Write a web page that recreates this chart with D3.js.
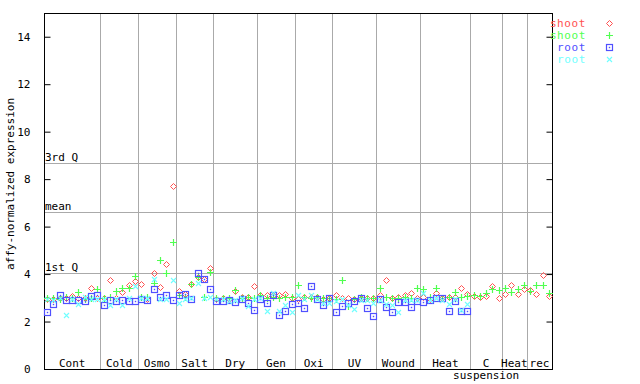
<!DOCTYPE html>
<html><head><meta charset="utf-8">
<script src="https://cdn.jsdelivr.net/npm/d3@7/dist/d3.min.js"></script>
<style>
html,body{margin:0;padding:0;background:#fff;}
svg{display:block;}
text{font-family:"DejaVu Sans Mono",monospace;font-size:11px;}
</style></head>
<body>
<svg id="chart" width="640" height="384"></svg>
<script>
// ---- data ----
const categories = ["Cont","Cold","Osmo","Salt","Dry","Gen","Oxi","UV","Wound","Heat","C|suspension","Heat","rec"];
const groupSizes = [9,6,6,6,7,6,6,7,7,8,5,4,4];
const yTicks = [0,2,4,6,8,10,12,14];
const refLabels = ["3rd Q","mean","1st Q"];
const refValues = [8.66,6.61,4.06];
const seriesNames = ["shoot","shoot","root","root"];

const shootA = [2.97,2.95,3.0,3.0,3.07,2.98,2.99,3.4,3.0,
  3.0,3.75,3.0,3.23,3.53,3.71,
  3.57,2.97,4.03,3.44,4.43,7.72,
  3.29,3.15,3.58,3.87,3.79,4.26,
  2.97,3.0,2.97,3.3,3.05,3.05,3.5,
  3.12,3.1,3.13,3.12,3.14,3.0,
  2.95,3.02,3.02,3.02,2.95,3.0,
  3.12,3.0,3.0,2.97,3.0,3.0,3.0,
  3.13,3.74,3.0,3.05,3.12,3.22,3.0,
  3.02,2.95,3.22,2.98,3.04,3.04,3.4,3.15,
  3.08,3.05,3.08,3.5,2.98,
  3.15,3.53,3.15,3.37,
  3.32,3.15,3.96,3.06];
const shootB = [3.01,3.0,2.97,3.02,2.99,3.24,2.97,3.0,3.36,
  2.99,3.05,3.28,3.4,3.42,3.92,
  3.02,3.05,3.64,4.6,4.04,5.36,
  3.12,3.05,3.57,3.86,3.05,4.09,
  3.0,3.0,3.0,3.32,3.0,3.05,3.0,
  3.1,3.0,3.05,3.0,3.05,3.02,
  3.53,3.02,3.0,3.02,3.0,3.0,
  2.96,3.73,2.64,2.97,3.02,3.0,2.98,
  3.4,3.05,3.0,3.0,3.02,3.0,3.43,
  3.36,3.05,3.42,3.0,3.04,3.25,3.05,3.08,
  3.1,3.09,3.22,3.35,3.31,
  3.4,3.23,3.37,3.53,
  3.27,3.53,3.56,3.2];
const rootA = [2.39,2.74,3.1,2.9,2.9,2.92,2.86,3.07,3.1,
  2.69,2.92,2.86,2.92,2.86,2.87,
  2.95,2.92,3.36,3.02,3.11,2.91,
  3.11,3.15,2.93,4.04,3.79,3.36,
  2.88,2.88,2.91,2.81,2.96,2.79,2.49,
  2.95,2.77,3.12,2.26,2.45,2.73,
  2.77,2.55,3.5,2.93,2.7,3.01,
  2.39,2.64,2.8,2.88,3.0,2.56,2.22,
  2.97,2.63,2.42,2.81,2.84,2.6,2.85,
  2.84,2.92,2.99,2.98,2.43,2.87,2.43,2.43,
  null,null,null,null,null,null,null,null,null,null,null,null,null];
const rootB = [2.95,2.9,3.0,2.28,2.95,2.72,3.05,2.97,2.95,
  2.95,2.69,2.97,2.69,3.0,3.5,
  3.0,3.0,3.79,2.97,2.94,3.75,
  2.8,2.93,3.0,3.63,3.0,3.02,
  2.97,2.95,2.85,2.9,3.0,2.67,2.95,
  3.0,2.45,3.2,2.45,2.69,2.39,
  3.13,2.95,3.1,2.95,2.78,2.8,
  2.85,2.95,2.7,2.53,2.9,2.9,2.8,
  2.9,2.72,2.7,2.39,2.9,2.9,2.9,
  3.2,2.9,3.0,2.92,2.75,2.95,2.48,2.75,
  null,null,null,null,null,null,null,null,null,null,null,null,null];

// ---- layout ----
const svg = d3.select("#chart");
const L = 44, R = 552, T = 13, B = 369;
const nSamples = d3.sum(groupSizes);
const x = d3.scaleBand().domain(d3.range(nSamples)).range([L, R]).padding(0);
const y = d3.scaleLinear().domain([0, 15]).range([B, T]);
const cx = i => x(i) + x.bandwidth() / 2;
const colors = ["#ff5050", "#50ff50", "#5050ff", "#70ffff"];
const grey = "#aaaaaa";

// group separators
const bounds = [];
let acc = 0;
groupSizes.forEach(s => { bounds.push({start: acc, end: acc + s}); acc += s; });
svg.append("g").selectAll("line").data(bounds.slice(1)).join("line")
  .attr("x1", d => Math.round(x(d.start)) + 0.5).attr("x2", d => Math.round(x(d.start)) + 0.5)
  .attr("y1", T).attr("y2", B).attr("stroke", grey).attr("stroke-width", 1);

// reference lines
const refs = refLabels.map((l, i) => ({label: l, value: refValues[i]}));
const rg = svg.append("g");
rg.selectAll("line").data(refs).join("line")
  .attr("x1", L).attr("x2", R)
  .attr("y1", d => Math.round(y(d.value)) + 0.5).attr("y2", d => Math.round(y(d.value)) + 0.5)
  .attr("stroke", grey).attr("stroke-width", 1);
rg.selectAll("text").data(refs).join("text")
  .attr("x", L + 1).attr("y", d => Math.round(y(d.value)) - 2)
  .attr("fill", "#000").text(d => d.label);

// frame
svg.append("rect").attr("x", L + 0.5).attr("y", T + 0.5).attr("width", R - L).attr("height", B - T)
  .attr("fill", "none").attr("stroke", "#000").attr("stroke-width", 1);

// y axes (ticks inward)
const yAxisL = d3.axisLeft(y).tickValues(yTicks).tickSize(-6).tickPadding(14).tickFormat(d3.format("d"));
const gl = svg.append("g").attr("transform", `translate(${L + 0.5},0)`).call(yAxisL);
gl.select(".domain").remove();
gl.selectAll("text").attr("font-size", 11).attr("font-family", "DejaVu Sans Mono").attr("fill", "#000");
gl.selectAll("line").attr("stroke", "#000");
const yAxisR = d3.axisRight(y).tickValues(yTicks).tickSize(-6).tickFormat("");
const gr = svg.append("g").attr("transform", `translate(${R + 0.5},0)`).call(yAxisR);
gr.select(".domain").remove();
gr.selectAll("line").attr("stroke", "#000");

// y label
svg.append("text").attr("transform", `translate(14,184) rotate(-90)`)
  .attr("text-anchor", "middle").attr("fill", "#000").text("affy-normalized expression");

// category labels
const cg = svg.append("g");
bounds.forEach((b, i) => {
  const mid = (x(b.start) + x(b.end - 1) + x.bandwidth()) / 2;
  const parts = categories[i].split("|");
  parts.forEach((p, j) => {
    cg.append("text").attr("x", mid).attr("y", 367 + j * 12)
      .attr("text-anchor", "middle").attr("fill", "#000").text(p);
  });
});

// markers
const symbols = [
  (g, px, py, c) => g.append("path").attr("d", `M${px},${py-3}L${px+3},${py}L${px},${py+3}L${px-3},${py}Z`)
      .attr("fill", "none").attr("stroke", c).attr("stroke-width", 1),
  (g, px, py, c) => g.append("path").attr("d", `M${px-3.5},${py}H${px+3.5}M${px},${py-3.5}V${py+3.5}`)
      .attr("stroke", c).attr("stroke-width", 1.2),
  (g, px, py, c) => { g.append("rect").attr("x", px - 3).attr("y", py - 3).attr("width", 6).attr("height", 6)
      .attr("fill", "none").attr("stroke", c).attr("stroke-width", 1.2);
      g.append("rect").attr("x", px - 0.7).attr("y", py - 0.7).attr("width", 1.4).attr("height", 1.4).attr("fill", c); },
  (g, px, py, c) => g.append("path").attr("d", `M${px-2.5},${py-2.5}L${px+2.5},${py+2.5}M${px-2.5},${py+2.5}L${px+2.5},${py-2.5}`)
      .attr("stroke", c).attr("stroke-width", 1.1)
];
const series = [shootA, shootB, rootA, rootB];
series.forEach((arr, s) => {
  const g = svg.append("g");
  arr.forEach((v, i) => {
    if (v == null) return;
    symbols[s](g, Math.round(cx(i)) + 0.5, Math.round(y(v)) + 0.5, colors[s]);
  });
});

// legend
const lg = svg.append("g");
seriesNames.forEach((n, i) => {
  const yy = 23 + i * 12;
  lg.append("text").attr("x", 586).attr("y", yy + 3.5).attr("text-anchor", "end")
    .attr("font-size", 10).attr("letter-spacing", "0.6px").attr("fill", colors[i]).text(n);
  symbols[i](lg, 609.5, yy + 0.5, colors[i]);
});
</script>
</body></html>
